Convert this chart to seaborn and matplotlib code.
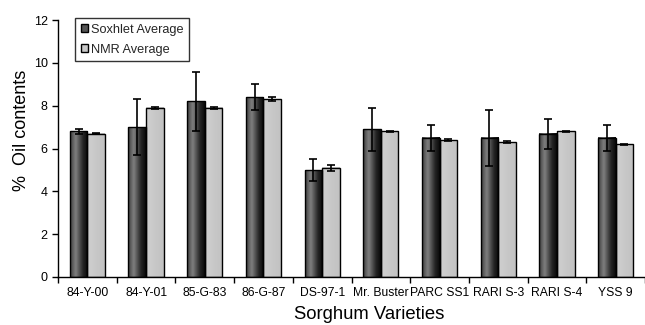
import numpy as np
import pandas as pd
import matplotlib
matplotlib.use('Agg')
import matplotlib.pyplot as plt
import seaborn as sns
from matplotlib.colors import LinearSegmentedColormap
from matplotlib.patches import Patch

varieties = ['84-Y-00', '84-Y-01', '85-G-83', '86-G-87', 'DS-97-1',
             'Mr. Buster', 'PARC SS1', 'RARI S-3', 'RARI S-4', 'YSS 9']
soxhlet = [6.8, 7.0, 8.2, 8.4, 5.0, 6.9, 6.5, 6.5, 6.7, 6.5]
soxhlet_err = [0.1, 1.3, 1.4, 0.6, 0.5, 1.0, 0.6, 1.3, 0.7, 0.6]
nmr = [6.7, 7.9, 7.9, 8.3, 5.1, 6.8, 6.4, 6.3, 6.8, 6.2]
nmr_err = [0.02, 0.05, 0.05, 0.1, 0.15, 0.02, 0.04, 0.05, 0.02, 0.02]
methods = ['Soxhlet Average', 'NMR Average']

sns.set_theme(style='white')
plt.rcParams['font.family'] = ['Liberation Sans', 'DejaVu Sans']

df = pd.DataFrame({
    'Variety': varieties * 2,
    'Method': [methods[0]] * len(varieties) + [methods[1]] * len(varieties),
    'Oil': soxhlet + nmr,
})

fig = plt.figure(figsize=(6.45, 3.25), dpi=100)
ax = fig.add_axes([0.09, 0.148, 0.91, 0.79])
sns.barplot(data=df, x='Variety', y='Oil', hue='Method', width=0.6,
            palette=['#555555', '#c8c8c8'], edgecolor='black', linewidth=1,
            errorbar=None, legend=False, ax=ax)

cmaps = [
    LinearSegmentedColormap.from_list('sox', [(0, '#3a3a3a'), (0.32, '#808080'), (0.72, '#262626'), (1, '#080808')]),
    LinearSegmentedColormap.from_list('nmr', [(0, '#d0d0d0'), (0.5, '#c8c8c8'), (1, '#c2c2c2')]),
]
grad = np.linspace(0, 1, 256).reshape(1, -1)
errs = [soxhlet_err, nmr_err]
for ci, cont in enumerate(ax.containers[:2]):
    xs, ys = [], []
    for bar in cont:
        x0, w, h = bar.get_x(), bar.get_width(), bar.get_height()
        ax.imshow(grad, extent=[x0, x0 + w, 0, h], aspect='auto', cmap=cmaps[ci],
                  zorder=2, interpolation='bicubic')
        bar.set_facecolor('none')
        bar.set_zorder(3)
        xs.append(x0 + w / 2)
        ys.append(h)
    ax.errorbar(xs, ys, yerr=errs[ci], fmt='none', ecolor='black', elinewidth=1.2,
                capsize=3, capthick=1.2, zorder=4)

ax.set_xlim(-0.5, len(varieties) - 0.5)
ax.set_ylim(0, 12)
ax.set_yticks(range(0, 13, 2))
ax.set_xticks(range(len(varieties)))
ax.set_xticklabels(varieties)
ax.set_xticks(np.arange(-0.5, len(varieties), 1.0), minor=True)
ax.tick_params(axis='x', which='major', length=0, labelsize=8.7, pad=7, colors='black')
ax.tick_params(axis='x', which='minor', length=4, width=1, direction='out', bottom=True, color='black')
ax.tick_params(axis='y', length=4, width=1, direction='out', left=True, labelsize=9, colors='black')
for s in ['top', 'right']:
    ax.spines[s].set_visible(False)
for s in ['left', 'bottom']:
    ax.spines[s].set_color('black')
    ax.spines[s].set_linewidth(1)

ax.set_ylabel('%  Oil contents', fontsize=13, color='black')
ax.yaxis.set_label_coords(-0.048, 0.57)
ax.set_xlabel('Sorghum Varieties', fontsize=13.3, color='black')
ax.xaxis.set_label_coords(0.53, -0.112)

handles = [Patch(facecolor='#555555', edgecolor='black', label=methods[0]),
           Patch(facecolor='#c8c8c8', edgecolor='black', label=methods[1])]
leg = ax.legend(handles=handles, loc='upper left', bbox_to_anchor=(0.029, 1.008),
                borderaxespad=0, frameon=True, fancybox=False, fontsize=9.2,
                handlelength=0.6, handleheight=0.6, handletextpad=0.2,
                labelspacing=0.6, borderpad=0.45)
leg.get_frame().set_edgecolor('black')
leg.get_frame().set_linewidth(1)

fig.savefig('out.png', dpi=100, facecolor='white')
